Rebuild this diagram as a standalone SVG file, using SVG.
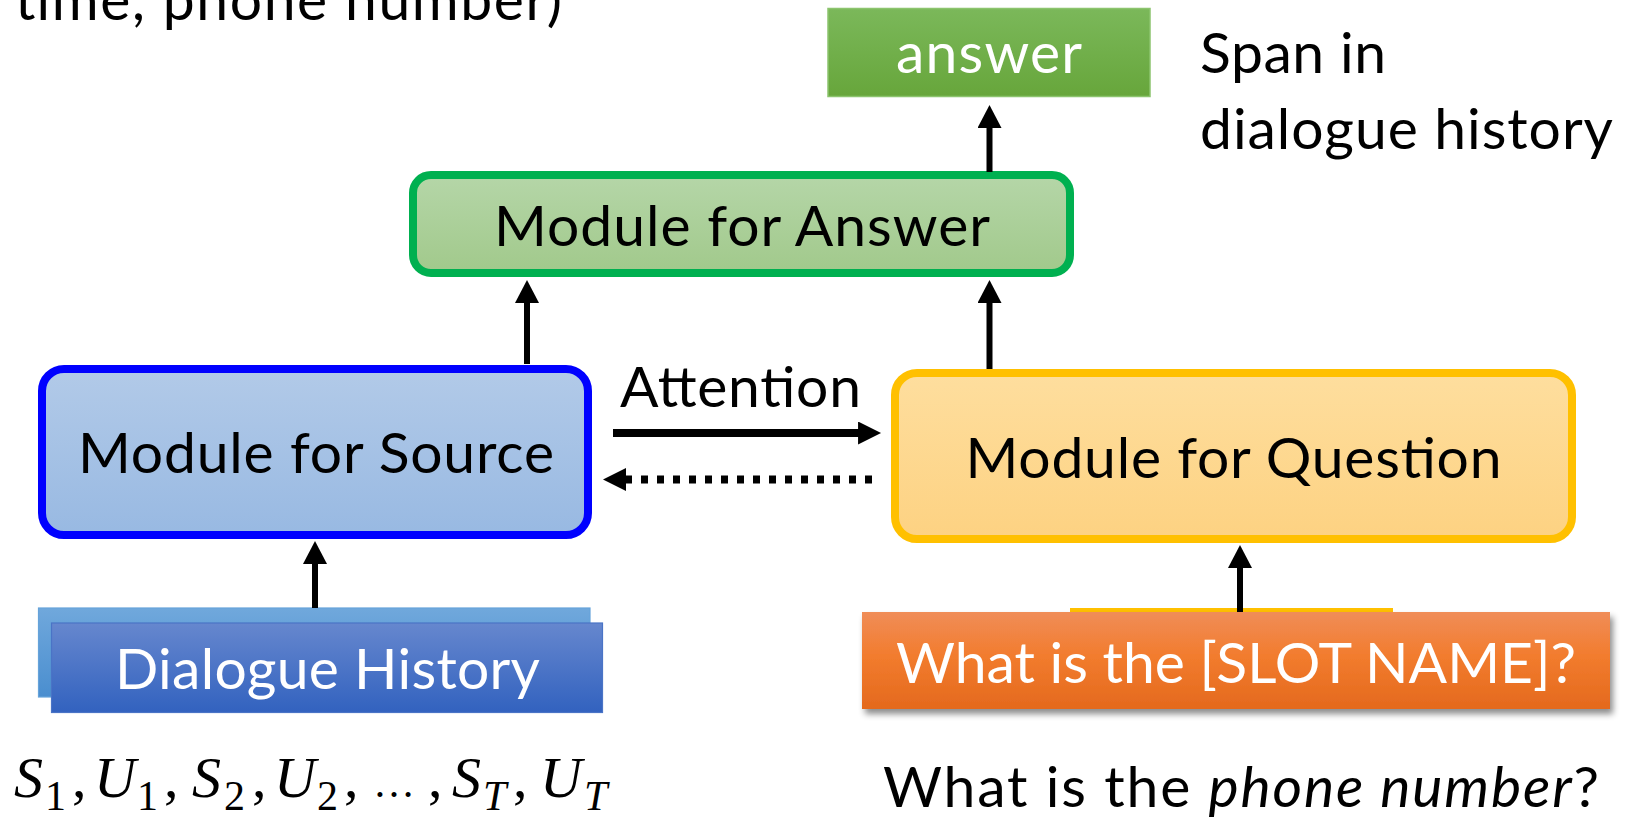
<svg xmlns="http://www.w3.org/2000/svg" width="1633" height="820" viewBox="0 0 1633 820">
  <style>
    text { font-family: Lato, "Open Sans", "Liberation Sans", sans-serif; font-size: 57px; fill: #000; }
    .w { fill: #fff; }
    .mid { text-anchor: middle; }
    .math { font-family: "Liberation Serif", "DejaVu Serif", serif; font-style: italic; font-size: 58px; }
    .up { font-family: "Liberation Serif", "DejaVu Serif", serif; font-style: normal; font-size: 58px; }
    .sub { font-family: "Liberation Serif", "DejaVu Serif", serif; font-style: normal; font-size: 42px; }
    .subi { font-family: "Liberation Serif", "DejaVu Serif", serif; font-style: italic; font-size: 42px; }
    .mod { stroke-width: 8; }
    .conn { stroke: #000; stroke-width: 6; fill: none; }
  </style>
  <defs>
    <linearGradient id="gAns" x1="0" y1="0" x2="0" y2="1">
      <stop offset="0" stop-color="#7bb85a"/>
      <stop offset="1" stop-color="#67a63b"/>
    </linearGradient>
    <linearGradient id="gMA" x1="0" y1="0" x2="0" y2="1">
      <stop offset="0" stop-color="#b5d6a8"/>
      <stop offset="1" stop-color="#a1c98b"/>
    </linearGradient>
    <linearGradient id="gMS" x1="0" y1="0" x2="0" y2="1">
      <stop offset="0" stop-color="#b2cae8"/>
      <stop offset="1" stop-color="#98b9e2"/>
    </linearGradient>
    <linearGradient id="gMQ" x1="0" y1="0" x2="0" y2="1">
      <stop offset="0" stop-color="#fede9e"/>
      <stop offset="1" stop-color="#fdd282"/>
    </linearGradient>
    <linearGradient id="gDHb" x1="0" y1="0" x2="0" y2="1">
      <stop offset="0" stop-color="#70a8dc"/>
      <stop offset="1" stop-color="#4a8ecf"/>
    </linearGradient>
    <linearGradient id="gDHf" x1="0" y1="0" x2="0" y2="1">
      <stop offset="0" stop-color="#6687ce"/>
      <stop offset="1" stop-color="#3262bf"/>
    </linearGradient>
    <linearGradient id="gOr" x1="0" y1="0" x2="0" y2="1">
      <stop offset="0" stop-color="#f08d58"/>
      <stop offset="0.45" stop-color="#f27c2e"/>
      <stop offset="1" stop-color="#e4691d"/>
    </linearGradient>
    <filter id="shadow" x="-5%" y="-20%" width="110%" height="150%">
      <feDropShadow dx="3" dy="5" stdDeviation="3" flood-color="#000" flood-opacity="0.45"/>
    </filter>
    <marker id="head" viewBox="0 0 24 24" refX="1" refY="12" markerWidth="24" markerHeight="24" markerUnits="userSpaceOnUse" orient="auto">
      <path d="M0,0 L23,12 L0,24 z" fill="#000"/>
    </marker>
    <marker id="headA" viewBox="0 0 24 24" refX="1" refY="12" markerWidth="24" markerHeight="23" markerUnits="userSpaceOnUse" orient="auto">
      <path d="M0,0 L24,12 L0,24 z" fill="#000"/>
    </marker>
  </defs>

  <g id="top-text">
    <text x="15" y="20" textLength="547">time, phone number)</text>
  </g>

  <g id="answer">
    <rect x="828" y="8.5" width="322" height="88" fill="url(#gAns)" stroke="#8cc46e" stroke-width="1.5"/>
    <text class="w mid" x="989" y="73" textLength="186">answer</text>
  </g>

  <g id="span-label">
    <text x="1200" y="73" textLength="186">Span in</text>
    <text x="1200" y="149" textLength="413">dialogue history</text>
  </g>

  <g id="module-answer">
    <rect class="mod" x="413" y="175" width="657" height="98" rx="18" fill="url(#gMA)" stroke="#00b050"/>
    <text class="mid" x="742" y="245.5" textLength="496">Module for Answer</text>
  </g>

  <g id="module-source">
    <rect class="mod" x="42" y="369" width="546" height="166" rx="22" fill="url(#gMS)" stroke="#0000ff"/>
    <text class="mid" x="316" y="473" textLength="476">Module for Source</text>
  </g>

  <g id="module-question">
    <rect class="mod" x="895" y="373" width="677" height="166" rx="22" fill="url(#gMQ)" stroke="#ffc000"/>
    <text class="mid" x="1233.5" y="478" textLength="536">Module for Question</text>
  </g>

  <g id="attention-label">
    <text x="620" y="407" textLength="241">Attention</text>
  </g>

  <g id="dialogue-history">
    <rect x="38.5" y="608" width="551.5" height="89" fill="url(#gDHb)" stroke="#66a3da" stroke-width="1.2"/>
    <rect x="51.5" y="623" width="551" height="89.5" fill="url(#gDHf)" stroke="#4a74c6" stroke-width="1.2"/>
    <text class="w mid" x="327.5" y="689" textLength="425">Dialogue History</text>
  </g>

  <g id="slot-question">
    <rect x="1070" y="608" width="323" height="20" fill="#ffc000"/>
    <rect x="862" y="612" width="748" height="97" fill="url(#gOr)" filter="url(#shadow)"/>
    <text class="w mid" x="1236" y="682.5" textLength="680">What is the [SLOT NAME]?</text>
  </g>

  <g id="history-formula">
    <text class="math" y="797"><tspan x="14">S</tspan><tspan class="sub" x="45" y="810">1</tspan><tspan class="up" x="72" y="797">,</tspan><tspan x="94">U</tspan><tspan class="sub" x="137" y="810">1</tspan><tspan class="up" x="164" y="797">,</tspan><tspan x="192">S</tspan><tspan class="sub" x="224" y="810">2</tspan><tspan class="up" x="252" y="797">,</tspan><tspan x="274">U</tspan><tspan class="sub" x="317" y="810">2</tspan><tspan class="up" x="344" y="797">,</tspan><tspan class="sub" x="373">…</tspan><tspan class="up" x="428">,</tspan><tspan x="452">S</tspan><tspan class="subi" x="483" y="810">T</tspan><tspan class="up" x="513" y="797">,</tspan><tspan x="540">U</tspan><tspan class="subi" x="584" y="810">T</tspan></text>
  </g>

  <g id="example-question">
    <text class="mid" x="1241" y="806.5" textLength="716">What is the <tspan font-style="italic">phone number</tspan>?</text>
  </g>

  <g id="connectors">
    <line class="conn" x1="989.5" y1="172" x2="989.5" y2="127" marker-end="url(#head)"/>
    <line class="conn" x1="527" y1="364" x2="527" y2="302" marker-end="url(#head)"/>
    <line class="conn" x1="989.5" y1="369" x2="989.5" y2="302" marker-end="url(#head)"/>
    <line class="conn" x1="315" y1="608" x2="315" y2="563" marker-end="url(#head)"/>
    <line class="conn" x1="1240" y1="612" x2="1240" y2="567" marker-end="url(#head)"/>
    <line x1="613" y1="433" x2="859" y2="433" stroke="#000" stroke-width="8" marker-end="url(#headA)"/>
    <line x1="872" y1="479.5" x2="625" y2="479.5" stroke="#000" stroke-width="8" stroke-dasharray="7 9"/>
    <path d="M626,468 L603,479.5 L626,491 z" fill="#000"/>
  </g>
</svg>
